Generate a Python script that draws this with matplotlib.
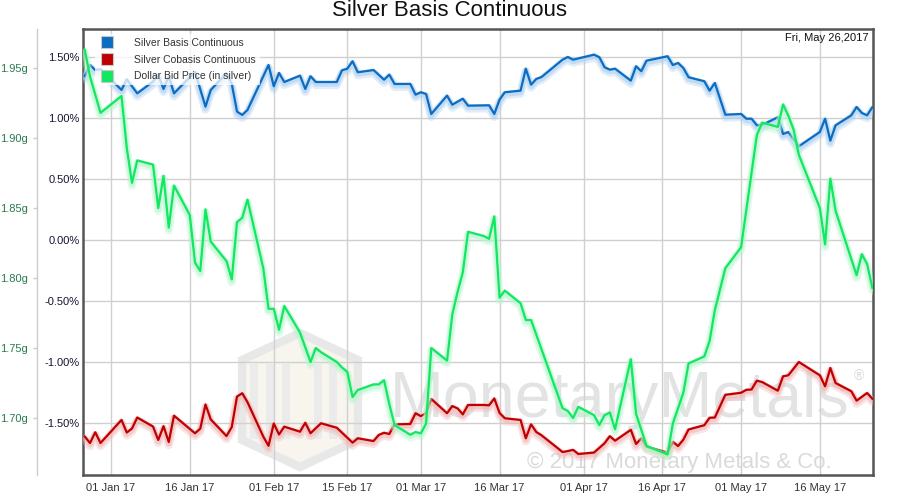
import matplotlib
matplotlib.use('Agg')
import matplotlib.pyplot as plt
import matplotlib.dates as mdates
import matplotlib.patheffects as pe
from matplotlib.lines import Line2D
from matplotlib.patches import Polygon, Rectangle
import pandas as pd
import numpy as np

plt.rcParams['font.family'] = ['Liberation Sans', 'DejaVu Sans']

# ---------------- data ----------------
basis_dates = ["2016-12-27", "2016-12-28", "2016-12-29", "2016-12-30", "2017-01-03", "2017-01-04",
               "2017-01-06", "2017-01-09", "2017-01-10", "2017-01-11", "2017-01-12", "2017-01-13",
               "2017-01-17", "2017-01-19", "2017-01-20", "2017-01-23", "2017-01-24", "2017-01-25",
               "2017-01-26", "2017-01-27", "2017-01-31", "2017-02-01", "2017-02-02", "2017-02-03",
               "2017-02-06", "2017-02-07", "2017-02-08", "2017-02-09", "2017-02-13", "2017-02-14",
               "2017-02-15", "2017-02-16", "2017-02-17", "2017-02-20", "2017-02-22", "2017-02-23",
               "2017-02-24", "2017-02-27", "2017-02-28", "2017-03-01", "2017-03-02", "2017-03-03",
               "2017-03-06", "2017-03-07", "2017-03-09", "2017-03-10", "2017-03-14", "2017-03-15",
               "2017-03-16", "2017-03-17", "2017-03-20", "2017-03-21", "2017-03-22", "2017-03-23",
               "2017-03-24", "2017-03-28", "2017-03-29", "2017-03-30", "2017-04-03", "2017-04-04",
               "2017-04-05", "2017-04-06", "2017-04-07", "2017-04-10", "2017-04-11", "2017-04-12",
               "2017-04-13", "2017-04-17", "2017-04-18", "2017-04-19", "2017-04-20", "2017-04-21",
               "2017-04-24", "2017-04-25", "2017-04-26", "2017-04-28", "2017-05-01", "2017-05-02",
               "2017-05-03", "2017-05-04", "2017-05-05", "2017-05-08", "2017-05-09", "2017-05-10",
               "2017-05-12", "2017-05-16", "2017-05-17", "2017-05-18", "2017-05-19", "2017-05-22",
               "2017-05-23", "2017-05-24", "2017-05-25", "2017-05-26"]
basis_pct = [1.345, 1.434, 1.393, 1.400, 1.230, 1.317,
             1.202, 1.298, 1.352, 1.238, 1.340, 1.202,
             1.377, 1.093, 1.230, 1.366, 1.280, 1.052,
             1.025, 1.066, 1.434, 1.260, 1.369, 1.295,
             1.347, 1.238, 1.342, 1.295, 1.295, 1.391,
             1.404, 1.465, 1.375, 1.393, 1.314, 1.355,
             1.279, 1.279, 1.191, 1.211, 1.197, 1.033,
             1.183, 1.109, 1.158, 1.101, 1.104, 1.033,
             1.150, 1.211, 1.224, 1.404, 1.273, 1.320,
             1.336, 1.478, 1.500, 1.478, 1.519, 1.498,
             1.416, 1.396, 1.404, 1.306, 1.424, 1.383,
             1.470, 1.506, 1.434, 1.451, 1.410, 1.334,
             1.301, 1.224, 1.287, 1.027, 1.033, 0.994,
             0.994, 0.940, 0.943, 1.006, 0.869, 0.885,
             0.768, 0.885, 0.994, 0.814, 0.940, 1.022,
             1.090, 1.041, 1.022, 1.088]

cobasis_dates = ["2016-12-27", "2016-12-28", "2016-12-29", "2016-12-30", "2017-01-03", "2017-01-04",
                 "2017-01-05", "2017-01-06", "2017-01-09", "2017-01-10", "2017-01-11", "2017-01-12",
                 "2017-01-13", "2017-01-17", "2017-01-18", "2017-01-19", "2017-01-20", "2017-01-23",
                 "2017-01-24", "2017-01-25", "2017-01-26", "2017-01-27", "2017-01-30", "2017-01-31",
                 "2017-02-01", "2017-02-02", "2017-02-03", "2017-02-06", "2017-02-07", "2017-02-08",
                 "2017-02-10", "2017-02-13", "2017-02-16", "2017-02-17", "2017-02-20", "2017-02-21",
                 "2017-02-22", "2017-02-23", "2017-02-24", "2017-02-27", "2017-02-28", "2017-03-01",
                 "2017-03-02", "2017-03-03", "2017-03-06", "2017-03-07", "2017-03-08", "2017-03-09",
                 "2017-03-10", "2017-03-13", "2017-03-14", "2017-03-15", "2017-03-16", "2017-03-17",
                 "2017-03-20", "2017-03-21", "2017-03-22", "2017-03-23", "2017-03-24", "2017-03-28",
                 "2017-03-29", "2017-03-30", "2017-03-31", "2017-04-03", "2017-04-05", "2017-04-06",
                 "2017-04-07", "2017-04-10", "2017-04-11", "2017-04-12", "2017-04-13", "2017-04-17",
                 "2017-04-18", "2017-04-19", "2017-04-20", "2017-04-21", "2017-04-24", "2017-04-25",
                 "2017-04-26", "2017-04-28", "2017-05-01", "2017-05-02", "2017-05-03", "2017-05-04",
                 "2017-05-05", "2017-05-08", "2017-05-09", "2017-05-10", "2017-05-12", "2017-05-16",
                 "2017-05-17", "2017-05-18", "2017-05-19", "2017-05-22", "2017-05-23", "2017-05-25",
                 "2017-05-26"]
cobasis_pct = [-1.611, -1.664, -1.576, -1.664, -1.475, -1.578,
               -1.545, -1.455, -1.529, -1.639, -1.526, -1.656,
               -1.440, -1.584, -1.546, -1.348, -1.471, -1.607,
               -1.533, -1.283, -1.256, -1.330, -1.611, -1.687,
               -1.504, -1.594, -1.530, -1.571, -1.498, -1.584,
               -1.502, -1.539, -1.661, -1.625, -1.648, -1.598,
               -1.580, -1.590, -1.511, -1.508, -1.420, -1.443,
               -1.420, -1.303, -1.420, -1.361, -1.380, -1.429,
               -1.352, -1.352, -1.355, -1.299, -1.418, -1.461,
               -1.475, -1.625, -1.511, -1.574, -1.601, -1.738,
               -1.730, -1.720, -1.754, -1.742, -1.666, -1.608,
               -1.645, -1.556, -1.672, -1.625, -1.693, -1.744,
               -1.654, -1.689, -1.637, -1.553, -1.518, -1.457,
               -1.455, -1.269, -1.252, -1.228, -1.225, -1.153,
               -1.164, -1.235, -1.117, -1.109, -1.000, -1.109,
               -1.199, -1.049, -1.172, -1.240, -1.317, -1.254,
               -1.301]

price_dates = ["2016-12-27", "2016-12-28", "2016-12-30", "2017-01-03", "2017-01-04", "2017-01-05",
               "2017-01-06", "2017-01-09", "2017-01-10", "2017-01-11", "2017-01-12", "2017-01-13",
               "2017-01-16", "2017-01-17", "2017-01-18", "2017-01-19", "2017-01-20", "2017-01-23",
               "2017-01-24", "2017-01-25", "2017-01-26", "2017-01-27", "2017-01-30", "2017-01-31",
               "2017-02-01", "2017-02-02", "2017-02-03", "2017-02-06", "2017-02-08", "2017-02-09",
               "2017-02-10", "2017-02-13", "2017-02-14", "2017-02-15", "2017-02-16", "2017-02-17",
               "2017-02-20", "2017-02-21", "2017-02-22", "2017-02-23", "2017-02-24", "2017-02-27",
               "2017-02-28", "2017-03-01", "2017-03-02", "2017-03-03", "2017-03-06", "2017-03-07",
               "2017-03-08", "2017-03-09", "2017-03-10", "2017-03-13", "2017-03-14", "2017-03-15",
               "2017-03-16", "2017-03-17", "2017-03-20", "2017-03-21", "2017-03-22", "2017-03-28",
               "2017-03-29", "2017-03-30", "2017-03-31", "2017-04-03", "2017-04-04", "2017-04-05",
               "2017-04-06", "2017-04-07", "2017-04-10", "2017-04-11", "2017-04-13", "2017-04-17",
               "2017-04-18", "2017-04-20", "2017-04-21", "2017-04-24", "2017-04-25", "2017-04-26",
               "2017-04-28", "2017-05-01", "2017-05-04", "2017-05-05", "2017-05-08", "2017-05-09",
               "2017-05-10", "2017-05-11", "2017-05-12", "2017-05-16", "2017-05-17", "2017-05-18",
               "2017-05-19", "2017-05-23", "2017-05-24", "2017-05-25", "2017-05-26"]
price_g = [1.963, 1.944, 1.918, 1.930, 1.893, 1.868,
           1.884, 1.881, 1.850, 1.873, 1.836, 1.866,
           1.845, 1.811, 1.805, 1.849, 1.826, 1.812,
           1.799, 1.840, 1.843, 1.856, 1.807, 1.778,
           1.778, 1.763, 1.780, 1.761, 1.740, 1.750,
           1.747, 1.740, 1.736, 1.733, 1.715, 1.720,
           1.724, 1.724, 1.727, 1.710, 1.695, 1.688,
           1.690, 1.689, 1.696, 1.750, 1.741, 1.774,
           1.790, 1.804, 1.833, 1.830, 1.828, 1.844,
           1.786, 1.791, 1.782, 1.770, 1.770, 1.707,
           1.705, 1.700, 1.708, 1.702, 1.695, 1.702,
           1.704, 1.692, 1.742, 1.703, 1.680, 1.674,
           1.696, 1.718, 1.739, 1.744, 1.755, 1.777,
           1.807, 1.822, 1.902, 1.911, 1.908, 1.924,
           1.916, 1.906, 1.888, 1.850, 1.824, 1.871,
           1.848, 1.802, 1.817, 1.810, 1.793]

series_names = ["Silver Basis Continuous", "Silver Cobasis Continuous", "Dollar Bid Price (in silver)"]
series_colors = ["#0a6cc2", "#c00000", "#10e860"]
shadow_colors = ["#a9cdf0", "#f2b3b3", "#b5f5cd"]

pct_ticks = [-1.5, -1.0, -0.5, 0.0, 0.5, 1.0, 1.5]
gram_ticks = [1.70, 1.75, 1.80, 1.85, 1.90, 1.95]
date_ticks = ["2017-01-01", "2017-01-16", "2017-02-01", "2017-02-15", "2017-03-01",
              "2017-03-16", "2017-04-01", "2017-04-16", "2017-05-01", "2017-05-16"]

title = "Silver Basis Continuous"
date_stamp = "Fri, May 26,2017"

# ---------------- figure ----------------
W, H = 898, 498
fig = plt.figure(figsize=(W / 100, H / 100), dpi=100)
fig.patch.set_facecolor("white")

L, R, T, B = 83, 873, 29, 475
ax = fig.add_axes([L / W, 1 - B / H, (R - L) / W, (B - T) / H])
ax2 = ax.twinx()

bd = pd.to_datetime(basis_dates)
cd = pd.to_datetime(cobasis_dates)
pdts = pd.to_datetime(price_dates)

def fx(lw, sc):
    return [pe.Stroke(linewidth=lw + 4.5, foreground=sc, alpha=0.35, offset=(0, -2.0),
                      joinstyle='round', capstyle='round'),
            pe.Stroke(linewidth=lw + 2.5, foreground=sc, alpha=0.55, offset=(0, -1.2),
                      joinstyle='round', capstyle='round'),
            pe.Normal()]

lw = 1.6
ax.plot(bd, basis_pct, color=series_colors[0], lw=lw, solid_joinstyle='round',
        path_effects=fx(lw, shadow_colors[0]), zorder=3)
ax.plot(cd, cobasis_pct, color=series_colors[1], lw=lw, solid_joinstyle='round',
        path_effects=fx(lw, shadow_colors[1]), zorder=3)
ax2.plot(pdts, price_g, color=series_colors[2], lw=lw, solid_joinstyle='round',
         path_effects=fx(lw, shadow_colors[2]), zorder=3)

# limits
x0 = pd.Timestamp("2016-12-26 16:00")
x1 = pd.Timestamp("2017-05-26 03:00")
ax.set_xlim(x0, x1)
ax.set_ylim(-1.926, 1.7295)
ax2.set_ylim(1.6593, 1.9779)

# grid & ticks (percent axis)
ax.set_axisbelow(True)
ax.set_yticks(pct_ticks)
ax.set_yticklabels([f"{v:.2f}%" for v in pct_ticks])
ax.set_xticks(pd.to_datetime(date_ticks))
ax.xaxis.set_major_formatter(mdates.DateFormatter("%d %b %y"))
ax.grid(True, color="#d0d0d0", lw=1.0)
ax.tick_params(axis='y', length=0, pad=2.5, labelsize=8, labelcolor="#141432")
ax.tick_params(axis='x', length=0, pad=6, labelsize=8, labelcolor="#333333")

for s in ax.spines.values():
    s.set_color("#555555")
    s.set_linewidth(1.8)
for s in ax2.spines.values():
    s.set_visible(False)

# gram axis on the far left
ax2.yaxis.set_ticks_position('left')
ax2.yaxis.set_label_position('left')
ax2.spines['left'].set_visible(True)
ax2.spines['left'].set_position(('outward', 33))
ax2.spines['left'].set_color("#cccccc")
ax2.spines['left'].set_linewidth(1.0)
ax2.set_yticks(gram_ticks)
ax2.set_yticklabels([f"{v:.2f}g" for v in gram_ticks])
ax2.tick_params(axis='y', length=3, width=1, color="#cccccc", pad=3.5, labelsize=8,
                labelcolor="#2a7a50")

# watermark (behind grid)
wm_color = "#e3e3e3"
hexagon = Polygon([(0.2013, 0.2578), (0.2747, 0.3184), (0.3481, 0.2578),
                   (0.3481, 0.0785), (0.2747, 0.0179), (0.2013, 0.0785)],
                  closed=True, transform=ax.transAxes, facecolor="#f7f5ee",
                  edgecolor="#e8e8e8", lw=6, zorder=0.2)
ax.add_patch(hexagon)
for bx in [0.212, 0.232, 0.252, 0.292, 0.312]:
    ax.add_patch(Rectangle((bx, 0.08), 0.010, 0.17, transform=ax.transAxes,
                           facecolor="#ebebeb", edgecolor="none", zorder=0.25))
ax.text(0.3886, 0.130, "MonetaryMetals", transform=ax.transAxes, fontsize=46.5,
        color=wm_color, ha='left', va='baseline', zorder=0.3)
ax.text(0.982, 0.222, "®", transform=ax.transAxes, fontsize=10,
        color="#d8d8d8", ha='center', va='center', zorder=0.3)
ax.text(0.562, 0.016, "© 2017 Monetary Metals & Co.", transform=ax.transAxes, fontsize=16,
        color="#dadada", ha='left', va='baseline', zorder=0.3)

# legend
handles = [Line2D([], [], ls='none', marker='s', markersize=9, markerfacecolor=c,
                  markeredgecolor="#c8c8c8", markeredgewidth=0.8) for c in series_colors]
leg = ax2.legend(handles, series_names, loc='upper left', bbox_to_anchor=(0.0146, 0.989),
                 borderaxespad=0, fontsize=7.5, frameon=True, framealpha=0.75,
                 edgecolor='none', facecolor='white', fancybox=False,
                 handlelength=1.5, handletextpad=1.9, labelspacing=0.63, borderpad=0.4)
for t in leg.get_texts():
    t.set_color("#333333")
leg.set_zorder(10)

# date stamp and title
ax2.text(0.9937, 0.991, date_stamp, transform=ax.transAxes, fontsize=8, color="#111111",
         ha='right', va='top', zorder=11)
fig.text(0.5, 1 - 11 / H, title, fontsize=16, color="#111111", ha='center', va='center')

fig.savefig("out.png", dpi=100, facecolor="white")
